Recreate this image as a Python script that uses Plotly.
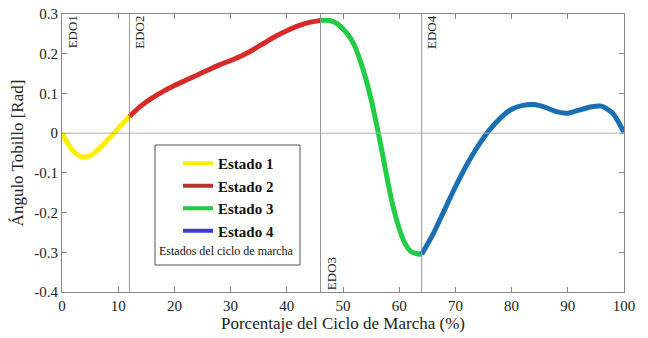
import plotly.graph_objects as go

# ---- data ----
x1 = [0, 1, 2, 3, 4, 5, 6, 7, 8, 9, 10, 11, 12]
y1 = [0.0, -0.025, -0.045, -0.057, -0.06, -0.057, -0.047, -0.034, -0.019, -0.004, 0.012, 0.027, 0.042]

x2 = [12, 14, 16, 18, 20, 22, 24, 26, 28, 30, 32, 34, 36, 38, 40, 42, 44, 46]
y2 = [0.042, 0.068, 0.088, 0.105, 0.12, 0.133, 0.146, 0.159, 0.172, 0.183, 0.195, 0.21, 0.227, 0.244, 0.258, 0.27, 0.279, 0.284]

x3 = [46, 47, 48, 49, 50, 51, 52, 53, 54, 55, 56, 57, 58, 59, 60, 61, 62, 63, 64]
y3 = [0.284, 0.284, 0.282, 0.275, 0.262, 0.246, 0.222, 0.185, 0.14, 0.085, 0.02, -0.05, -0.125, -0.19, -0.24, -0.277, -0.297, -0.303, -0.305]

x4 = [64, 66, 68, 70, 72, 74, 76, 78, 80, 82, 84, 86, 88, 90, 92, 94, 96, 98, 100]
y4 = [-0.305, -0.255, -0.195, -0.135, -0.08, -0.033, 0.007, 0.038, 0.06, 0.07, 0.072, 0.065, 0.054, 0.05, 0.058, 0.066, 0.068, 0.05, 0.002]

state_names = ["Estado 1", "Estado 2", "Estado 3", "Estado 4"]
line_colors = ["#ffee00", "#d92a2a", "#22cc44", "#1a6eb2"]
legend_colors = ["#ffee00", "#b83232", "#22cc44", "#3a3ad4"]

edo_x = [12, 46, 64]
edo_labels = ["EDO1", "EDO2", "EDO3", "EDO4"]
edo_label_x = [0, 12, 46, 64]
edo_label_y = [0.255, 0.255, -0.355, 0.255]

x_ticks = list(range(0, 101, 10))
y_ticks = [0.3, 0.2, 0.1, 0, -0.1, -0.2, -0.3, -0.4]
y_tick_text = ["0.3", "0.2", "0.1", "0", "-0.1", "-0.2", "-0.3", "-0.4"]

FONT = "Liberation Serif, Times New Roman, DejaVu Serif, serif"

W, H = 648, 338
ML, MR, MT, MB = 62, 24, 14, 46
PW, PH = W - ML - MR, H - MT - MB


def px_x(p):
    return (p - ML) / PW


def px_y(p):
    return 1 - (p - MT) / PH


fig = go.Figure()

for xs, ys, c in zip([x1, x2, x3, x4], [y1, y2, y3, y4], line_colors):
    fig.add_trace(go.Scatter(x=xs, y=ys, mode="lines", showlegend=False,
                             line=dict(color=c, width=5, shape="spline", smoothing=0.6),
                             hoverinfo="skip"))

for name, c in zip(state_names, legend_colors):
    fig.add_trace(go.Scatter(x=[None], y=[None], mode="lines", name=name,
                             line=dict(color=c, width=4)))

# zero line and EDO vertical lines
fig.add_hline(y=0, line=dict(color="#b0b0b0", width=1))
for xv in edo_x:
    fig.add_vline(x=xv, line=dict(color="#999999", width=1))

for lx, ly, lt in zip(edo_label_x, edo_label_y, edo_labels):
    fig.add_annotation(x=lx, y=ly, text=lt, textangle=-90, showarrow=False,
                       xanchor="left", yanchor="middle", xshift=1,
                       font=dict(family=FONT, size=13, color="#222"))

# legend box
fig.add_shape(type="rect", xref="paper", yref="paper",
              x0=px_x(155), x1=px_x(300), y0=px_y(265), y1=px_y(145),
              line=dict(color="#555", width=1), fillcolor="white", layer="below")
fig.add_annotation(xref="paper", yref="paper", x=px_x(157), y=px_y(251),
                   text="Estados del ciclo de marcha", showarrow=False,
                   xanchor="left", yanchor="middle",
                   font=dict(family=FONT, size=12, color="#111"))

fig.update_layout(
    width=W, height=H,
    margin=dict(l=ML, r=MR, t=MT, b=MB),
    paper_bgcolor="white", plot_bgcolor="rgba(0,0,0,0)",
    font=dict(family=FONT, size=14, color="#222"),
    legend=dict(x=px_x(178), y=px_y(147), xanchor="left", yanchor="top",
                bgcolor="rgba(0,0,0,0)", borderwidth=0,
                font=dict(family=FONT, size=15, color="#111", weight="bold"),
                itemwidth=30, tracegroupgap=0),
    xaxis=dict(range=[0, 100], tickvals=x_ticks, ticks="inside", ticklen=5,
               tickcolor="#888", showline=True, linecolor="#888", mirror="ticks",
               showgrid=False, zeroline=False, automargin=False,
               tickfont=dict(family=FONT, size=15),
               title=dict(text="Porcentaje del Ciclo de Marcha (%)", standoff=4,
                          font=dict(family=FONT, size=17))),
    yaxis=dict(range=[-0.4, 0.3], tickvals=y_ticks, ticktext=y_tick_text, ticks="inside",
               ticklen=5, tickcolor="#888", showline=True, linecolor="#888", mirror="ticks",
               showgrid=False, zeroline=False, automargin=False,
               ticklabeloverflow="allow",
               tickfont=dict(family=FONT, size=15),
               title=dict(text="Ángulo Tobillo [Rad]", standoff=6,
                          font=dict(family=FONT, size=17))),
)

fig.write_html("out.html", config={"displayModeBar": False},
               post_script="document.body.style.margin='0';")
